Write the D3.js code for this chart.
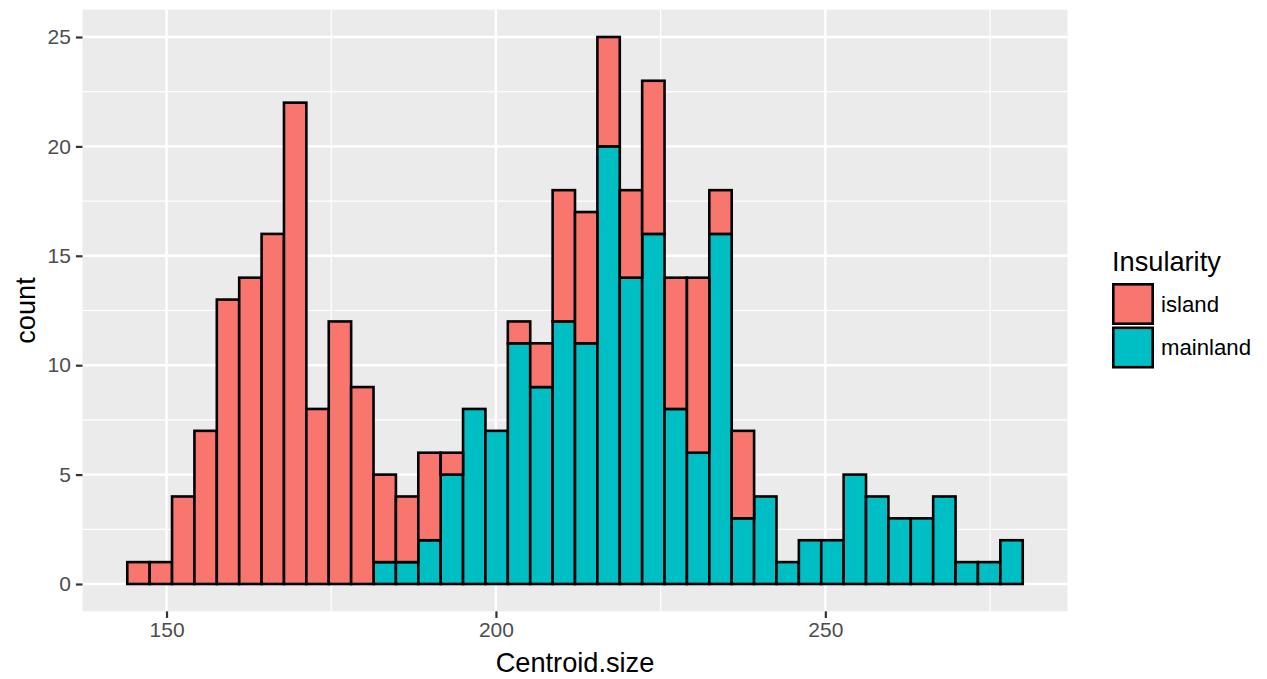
<!DOCTYPE html>
<html>
<head>
<meta charset="utf-8">
<script src="https://cdn.jsdelivr.net/npm/d3@7"></script>
<style>
  html, body { margin: 0; padding: 0; background: #ffffff; }
  svg { display: block; font-family: "Liberation Sans", Arial, Helvetica, sans-serif; }
</style>
</head>
<body>
<svg id="chart" width="1267" height="679"></svg>
<script>
// Histogram of Centroid.size, 40 bins, stacked by Insularity
const binStart = 144.04;
const binWidth = 3.398;
const islandCounts   = [1,1,4,7,13,14,16,22,8,12,9,4,3,4,1,0,0,1,2,6,6,5,4,7,6,8,2,4,0,0,0,0,0,0,0,0,0,0,0,0];
const mainlandCounts = [0,0,0,0,0,0,0,0,0,0,0,1,1,2,5,8,7,11,9,12,11,20,14,16,8,6,16,3,4,1,2,2,5,4,3,3,4,1,1,2];
const groups = ["island", "mainland"];
const groupColors = ["#F8766D", "#00BFC4"];
const xTicks = [150, 200, 250];
const xMinorTicks = [175, 225, 275];
const yTicks = [0, 5, 10, 15, 20, 25];
const yMinorTicks = [2.5, 7.5, 12.5, 17.5, 22.5];
const xTitle = "Centroid.size";
const yTitle = "count";
const legendTitle = "Insularity";

const svg = d3.select("#chart");
const panel = { left: 82.5, right: 1067.5, top: 9.65, bottom: 611.35 };

// bins with stacked extents (mainland at the bottom, island above)
const bins = islandCounts.map((isl, i) => ({
  x0: binStart + i * binWidth,
  x1: binStart + (i + 1) * binWidth,
  mainland: mainlandCounts[i],
  island: isl
}));

const xMin = bins[0].x0, xMax = bins[bins.length - 1].x1;
const xPad = (xMax - xMin) * 0.05;
const yMax = d3.max(bins, b => b.mainland + b.island);
const yPad = yMax * 0.05;

const x = d3.scaleLinear().domain([xMin - xPad, xMax + xPad]).range([panel.left, panel.right]);
const y = d3.scaleLinear().domain([-yPad, yMax + yPad]).range([panel.bottom, panel.top]);
const color = d3.scaleOrdinal().domain(groups).range(groupColors);

// panel background
svg.append("rect")
  .attr("x", panel.left).attr("y", panel.top)
  .attr("width", panel.right - panel.left).attr("height", panel.bottom - panel.top)
  .attr("fill", "#EBEBEB");

const grid = svg.append("g");
// minor grid
grid.selectAll(".xminor").data(xMinorTicks).join("line")
  .attr("x1", d => x(d)).attr("x2", d => x(d))
  .attr("y1", panel.top).attr("y2", panel.bottom)
  .attr("stroke", "#ffffff").attr("stroke-width", 1.2);
grid.selectAll(".yminor").data(yMinorTicks).join("line")
  .attr("y1", d => y(d)).attr("y2", d => y(d))
  .attr("x1", panel.left).attr("x2", panel.right)
  .attr("stroke", "#ffffff").attr("stroke-width", 1.2);
// major grid
grid.selectAll(".xmajor").data(xTicks).join("line")
  .attr("x1", d => x(d)).attr("x2", d => x(d))
  .attr("y1", panel.top).attr("y2", panel.bottom)
  .attr("stroke", "#ffffff").attr("stroke-width", 2.4);
grid.selectAll(".ymajor").data(yTicks).join("line")
  .attr("y1", d => y(d)).attr("y2", d => y(d))
  .attr("x1", panel.left).attr("x2", panel.right)
  .attr("stroke", "#ffffff").attr("stroke-width", 2.4);

// stacked bars
const stack = d3.stack().keys(["mainland", "island"])(bins);
const bars = svg.append("g");
stack.forEach(layer => {
  bars.append("g").selectAll("rect")
    .data(layer.filter(d => d[1] > d[0]))
    .join("rect")
    .attr("x", d => x(d.data.x0))
    .attr("width", d => x(d.data.x1) - x(d.data.x0))
    .attr("y", d => y(d[1]))
    .attr("height", d => y(d[0]) - y(d[1]))
    .attr("fill", color(layer.key))
    .attr("stroke", "#000000")
    .attr("stroke-width", 2.6);
});

// axes
const xAxis = svg.append("g")
  .attr("transform", `translate(0,${panel.bottom})`)
  .call(d3.axisBottom(x).tickValues(xTicks).tickSize(6.6).tickPadding(4.5).tickFormat(d3.format("d")));
const yAxis = svg.append("g")
  .attr("transform", `translate(${panel.left},0)`)
  .call(d3.axisLeft(y).tickValues(yTicks).tickSize(6.6).tickPadding(5).tickFormat(d3.format("d")));
[xAxis, yAxis].forEach(a => {
  a.select(".domain").remove();
  a.selectAll(".tick line").attr("stroke", "#333333").attr("stroke-width", 2.2);
  a.selectAll(".tick text").attr("fill", "#4D4D4D").attr("font-size", 21)
    .attr("font-family", "'Liberation Sans', Arial, sans-serif");
});

// axis titles
svg.append("text")
  .attr("x", (panel.left + panel.right) / 2).attr("y", 672)
  .attr("text-anchor", "middle").attr("font-size", 27.2).attr("fill", "#000")
  .text(xTitle);
svg.append("text")
  .attr("transform", `translate(35,${(panel.top + panel.bottom) / 2}) rotate(-90)`)
  .attr("text-anchor", "middle").attr("font-size", 27.2).attr("fill", "#000")
  .text(yTitle);

// legend
const legend = svg.append("g").attr("transform", "translate(1112,0)");
legend.append("text")
  .attr("x", 0).attr("y", 271)
  .attr("font-size", 27.2).attr("fill", "#000")
  .text(legendTitle);
const keySize = 42;
const item = legend.selectAll(".item").data(groups).join("g")
  .attr("transform", (d, i) => `translate(0,${283 + i * (keySize + 1.5)})`);
item.append("rect")
  .attr("width", keySize).attr("height", keySize)
  .attr("fill", "#F2F2F2");
item.append("rect")
  .attr("x", 1.3).attr("y", 1.3)
  .attr("width", keySize - 2.6).attr("height", keySize - 2.6)
  .attr("fill", d => color(d))
  .attr("stroke", "#000").attr("stroke-width", 2.6);
item.append("text")
  .attr("x", keySize + 7).attr("y", keySize / 2)
  .attr("dy", "0.36em")
  .attr("font-size", 22.2).attr("fill", "#000")
  .text(d => d);
</script>
</body>
</html>
